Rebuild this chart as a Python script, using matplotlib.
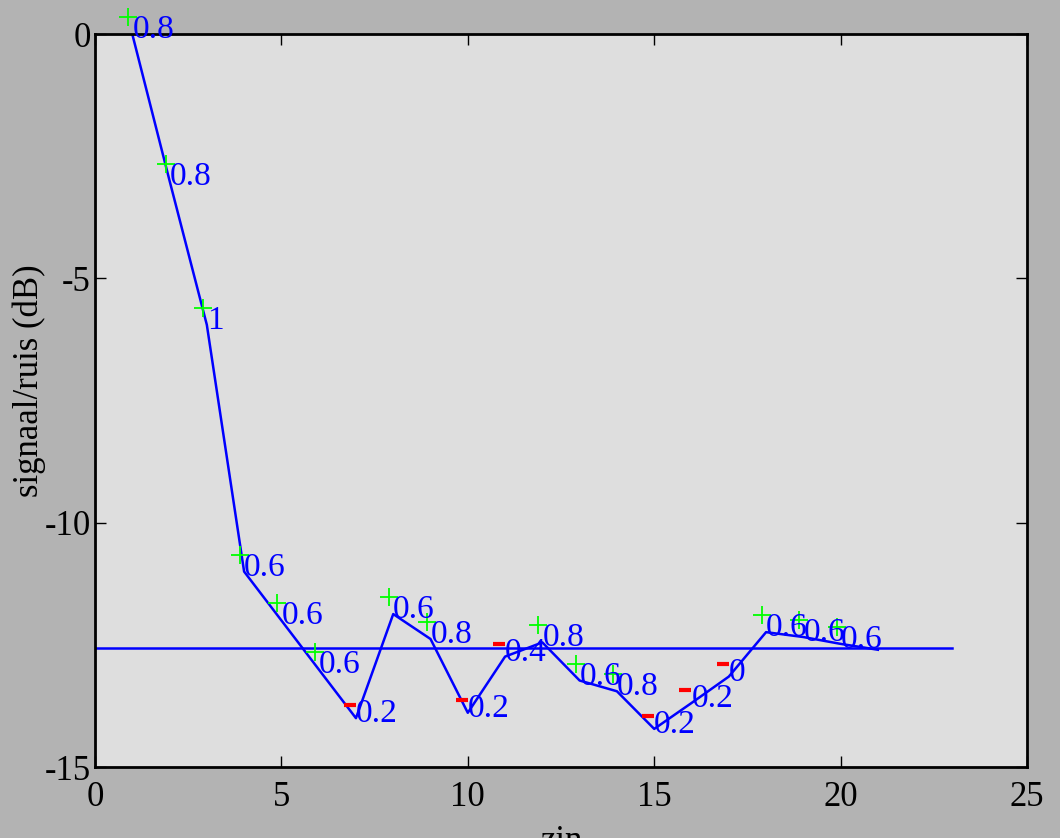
import matplotlib
matplotlib.use("Agg")
import matplotlib.pyplot as plt
from matplotlib.transforms import offset_copy

# snr per sentence (line), one extra point at the end
zin = [1, 2, 3, 4, 5, 6, 7, 8, 9, 10, 11, 12, 13, 14, 15, 16, 17, 18, 19, 20, 21]
snr = [0.0, -3.0, -5.95, -11.0, -12.0, -13.0, -14.0, -11.87, -12.38, -13.89, -12.74,
       -12.45, -13.23, -13.45, -14.22, -13.69, -13.15, -12.24, -12.34, -12.48, -12.6]

# label per point (first 20 points) and sign marker
labels = ["0.8", "0.8", "1", "0.6", "0.6", "0.6", "0.2", "0.6", "0.8", "0.2",
          "0.4", "0.8", "0.6", "0.8", "0.2", "0.2", "0", "0.6", "0.6", "0.6"]
signs = ["+", "+", "+", "+", "+", "+", "-", "+", "+", "-",
         "-", "+", "+", "+", "-", "-", "-", "+", "+", "+"]

ref_x = [0, 23]
ref_level = -12.56

plt.rcParams['font.family'] = ['Liberation Serif', 'DejaVu Serif']
plt.rcParams['axes.unicode_minus'] = False

fig = plt.figure(figsize=(10.6, 8.38), dpi=100, facecolor='#b3b3b3')
ax = fig.add_axes([0.0896, 0.0847, 0.8793, 0.8747])
ax.set_facecolor('#dedede')

ax.plot(zin, snr, color='#0000ff', lw=1.8)
ax.plot(ref_x, [ref_level, ref_level], color='#0000ff', lw=1.8)

n = len(labels)
plus_tr = offset_copy(ax.transData, fig=fig, x=-4, y=17, units='dots')
minus_tr = offset_copy(ax.transData, fig=fig, x=-6, y=13, units='dots')
txt_tr = offset_copy(ax.transData, fig=fig, x=0, y=-4, units='dots')

px = [zin[i] for i in range(n) if signs[i] == "+"]
py = [snr[i] for i in range(n) if signs[i] == "+"]
mx = [zin[i] for i in range(n) if signs[i] == "-"]
my = [snr[i] for i in range(n) if signs[i] == "-"]
ax.plot(px, py, '+', color='#00ff00', ms=13, mew=1.3, transform=plus_tr, clip_on=False)
ax.plot(mx, my, '_', color='#ff0000', ms=8, mew=3, transform=minus_tr, clip_on=False)

for i in range(n):
    ax.text(zin[i], snr[i], labels[i], color='#0000ff', fontsize=24,
            ha='left', va='baseline', transform=txt_tr, clip_on=False)

ax.set_xlim(0, 25)
ax.set_ylim(-15, 0)
ax.set_xticks([0, 5, 10, 15, 20, 25])
ax.set_yticks([0, -5, -10, -15])
ax.tick_params(direction='in', length=8, width=1, labelsize=25,
               top=True, right=True, colors='black')
ax.tick_params(axis='x', pad=10)
ax.tick_params(axis='y', pad=3)
for s in ax.spines.values():
    s.set_linewidth(2)
    s.set_color('black')

ax.set_xlabel('zin', fontsize=25)
ax.xaxis.set_label_coords(0.5, -0.079)
ax.set_ylabel('signaal/ruis (dB)', fontsize=25)
ax.yaxis.set_label_coords(-0.053, 0.527)

fig.savefig('out.png', dpi=100, facecolor=fig.get_facecolor())
